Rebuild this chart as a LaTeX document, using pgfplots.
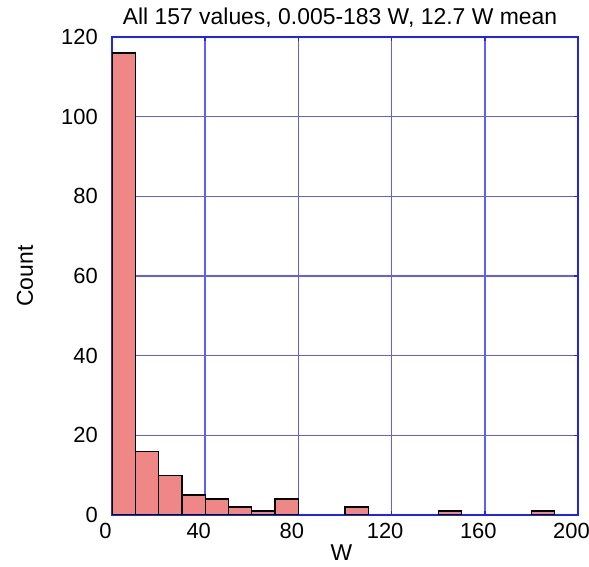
\documentclass[border=0pt]{standalone}
\usepackage{pgfplots}
\pgfplotsset{compat=1.18}
\usepackage{fontspec}
\setmainfont{Liberation Sans}
\definecolor{barfill}{RGB}{240,135,135}
\definecolor{gridblue}{RGB}{95,95,245}
\definecolor{frameblue}{RGB}{35,35,240}
\begin{document}
\begin{tikzpicture}
\begin{axis}[
  name=ax,
  scale only axis,
  width=466bp, height=478bp,
  xmin=0, xmax=200, ymin=0, ymax=120,
  xtick={0,40,...,200}, ytick={0,20,...,120},
  axis line style={draw=frameblue, line width=1.3bp},
  major tick style={draw=frameblue, line width=1.6bp},
  tick align=inside,
  major tick length=4bp,
  grid=major,
  major grid style={draw=gridblue, line width=1.6bp},
  /pgf/number format/assume math mode=true,
  ticklabel style={font=\fontsize{22}{26}\selectfont, inner sep=0pt},
  xticklabel style={anchor=center, yshift=-15.5bp, xshift=-6.5bp},
  yticklabel style={anchor=east, xshift=-14bp},
  every axis x label/.style={at={(rel axis cs:0.5,0)}, anchor=center, yshift=-38bp, xshift=-3.5bp, font=\fontsize{23}{27}\selectfont},
  every axis y label/.style={at={(rel axis cs:0,0.5)}, xshift=-87bp, rotate=90, anchor=center, font=\fontsize{23}{27}\selectfont},
  every axis title/.style={at={(rel axis cs:0.5,1)}, anchor=center, yshift=19bp, xshift=-5bp, font=\fontsize{23}{27}\selectfont},
  title={All 157 values, 0.005-183 W, 12.7 W mean},
  xlabel={W}, ylabel={Count},
]
\addplot[ybar, bar width=10, fill=barfill, draw=black, line width=1.3bp]
coordinates {
 (5,116) (15,16) (25,10) (35,5) (45,4) (55,2) (65,1) (75,4)
 (105,2) (145,1) (185,1)
};
\end{axis}
\pgfresetboundingbox
\path[use as bounding box] ([xshift=-112bp,yshift=-52bp]ax.south west) rectangle ([xshift=11bp,yshift=37bp]ax.north east);
\end{tikzpicture}
\end{document}
